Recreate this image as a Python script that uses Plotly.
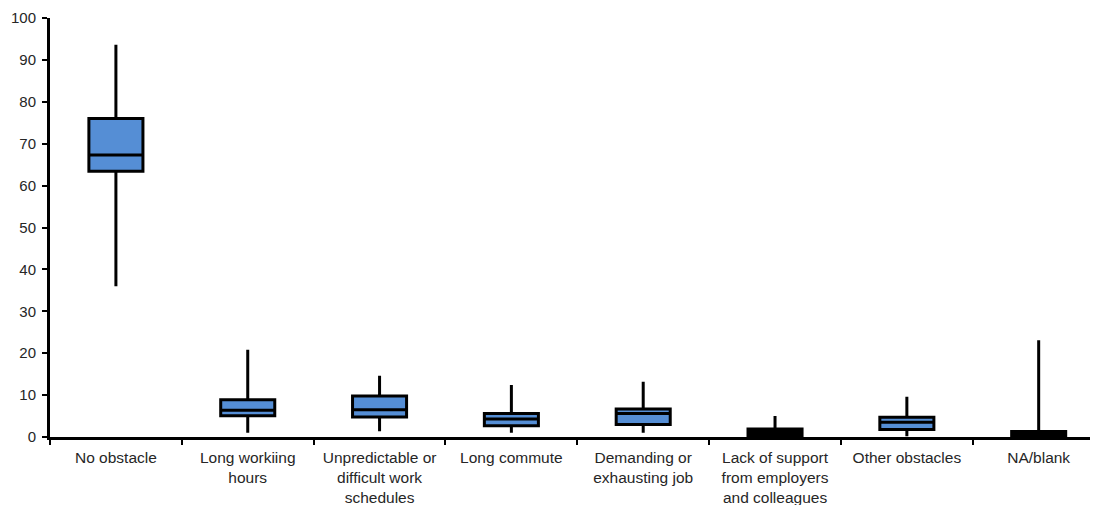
import plotly.graph_objects as go

categories = [
    "No obstacle",
    "Long workiing<br>hours",
    "Unpredictable or<br>difficult work<br>schedules",
    "Long commute",
    "Demanding or<br>exhausting job",
    "Lack of support<br>from employers<br>and colleagues",
    "Other obstacles",
    "NA/blank",
]
lower = [36.0, 1.0, 1.4, 1.0, 1.0, 0.0, 0.2, 0.0]
q1 = [63.4, 5.1, 4.8, 2.7, 3.0, 0.0, 1.8, 0.0]
median = [67.3, 6.4, 6.5, 4.3, 5.6, 0.9, 3.5, 0.6]
q3 = [76.0, 8.9, 9.8, 5.6, 6.7, 1.9, 4.7, 1.3]
upper = [93.6, 20.8, 14.6, 12.4, 13.2, 5.0, 9.6, 23.1]

# thin boxes render fully black in the reference
thin = [q3[i] - q1[i] < 2.5 for i in range(len(categories))]

fig = go.Figure()
for is_thin, fill in [(False, "#558ED5"), (True, "black")]:
    idx = [i for i in range(len(categories)) if thin[i] == is_thin]
    fig.add_trace(go.Box(
        x=[categories[i] for i in idx],
        q1=[q1[i] for i in idx],
        median=[median[i] for i in idx],
        q3=[q3[i] for i in idx],
        lowerfence=[lower[i] for i in idx],
        upperfence=[upper[i] for i in idx],
        fillcolor=fill,
        line=dict(color="black", width=3),
        whiskerwidth=0,
        width=0.41,
        boxpoints=False,
        hoverinfo="skip",
        showlegend=False,
    ))

# page body has an 8px default margin, so the figure is offset by 8px
fig.update_layout(
    width=1090, height=497,
    margin=dict(l=42, r=0, t=10, b=68),
    plot_bgcolor="white", paper_bgcolor="white",
    boxmode="overlay",
    font=dict(family="Liberation Sans, Arial, sans-serif", size=15, color="#262626"),
)
fig.update_xaxes(
    type="category",
    categoryorder="array", categoryarray=categories,
    range=[-0.5, 7.45],
    automargin=False,
    showline=True, linecolor="black", linewidth=3,
    ticks="outside", tickson="boundaries", ticklen=5, tickwidth=2, tickcolor="black",
    ticklabelstandoff=4,
    showgrid=False, zeroline=False,
    tickfont=dict(size=15.5),
)
fig.update_yaxes(
    range=[0, 100], dtick=10,
    automargin=False,
    showline=True, linecolor="black", linewidth=3,
    ticks="outside", ticklen=5, tickwidth=2, tickcolor="black",
    ticklabelstandoff=3,
    showgrid=False, zeroline=False,
    tickfont=dict(size=15),
)

fig.write_html("out.html")
